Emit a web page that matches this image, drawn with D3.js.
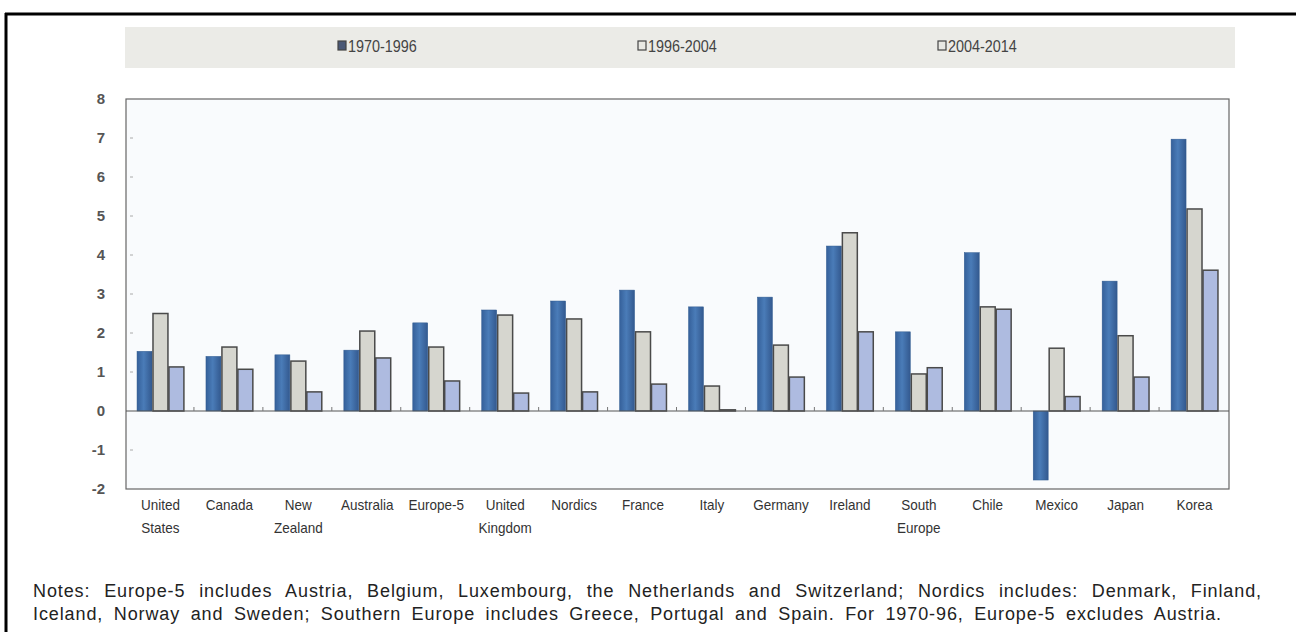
<!DOCTYPE html>
<html>
<head>
<meta charset="utf-8">
<script src="https://cdn.jsdelivr.net/npm/d3@7"></script>
<style>
  body { margin: 0; background: #fff; }
  svg { display: block; }
</style>
</head>
<body>
<div id="chart"></div>
<script>
const width = 1296;
const height = 632;

// Data.
const categories = [
  ["United", "States"], ["Canada"], ["New", "Zealand"], ["Australia"], ["Europe-5"],
  ["United", "Kingdom"], ["Nordics"], ["France"], ["Italy"], ["Germany"], ["Ireland"],
  ["South", "Europe"], ["Chile"], ["Mexico"], ["Japan"], ["Korea"]
];
const seriesNames = ["1970-1996", "1996-2004", "2004-2014"];
const values1970 = [1.53, 1.40, 1.44, 1.56, 2.26, 2.59, 2.82, 3.10, 2.67, 2.92, 4.23, 2.03, 4.06, -1.77, 3.33, 6.97];
const values1996 = [2.50, 1.64, 1.28, 2.05, 1.64, 2.46, 2.36, 2.03, 0.64, 1.69, 4.57, 0.95, 2.67, 1.61, 1.93, 5.18];
const values2004 = [1.13, 1.07, 0.49, 1.36, 0.77, 0.46, 0.49, 0.69, 0.03, 0.87, 2.03, 1.11, 2.61, 0.37, 0.87, 3.61];
const yTicks = [-2, -1, 0, 1, 2, 3, 4, 5, 6, 7, 8];
const notes = [
  "Notes: Europe-5 includes Austria, Belgium, Luxembourg, the Netherlands and Switzerland; Nordics includes: Denmark, Finland,",
  "Iceland, Norway and Sweden; Southern Europe includes Greece, Portugal and Spain. For 1970-96, Europe-5 excludes Austria."
];

const series = [values1970, values1996, values2004];
const fills = ["url(#gradDark)", "#d6d6cf", "#aebbe0"];
const legendFills = ["#4a5876", "#e8e8e3", "#e8e8e3"];

const margin = { top: 99, right: 1296 - 1229, bottom: 632 - 489, left: 126 };

const svg = d3.select("#chart")
  .append("svg")
  .attr("width", width)
  .attr("height", height)
  .style("font-family", "'Liberation Sans', Arial, sans-serif");

const defs = svg.append("defs");
const grad = defs.append("linearGradient").attr("id", "gradDark")
  .attr("x1", "0").attr("x2", "1").attr("y1", "0").attr("y2", "0");
grad.append("stop").attr("offset", "0%").attr("stop-color", "#35609a");
grad.append("stop").attr("offset", "45%").attr("stop-color", "#4a7cb8");
grad.append("stop").attr("offset", "100%").attr("stop-color", "#33598f");

// Outer frame
svg.append("line").attr("x1", 5).attr("x2", width).attr("y1", 14).attr("y2", 14)
  .attr("stroke", "#000").attr("stroke-width", 3);
svg.append("line").attr("x1", 6).attr("x2", 6).attr("y1", 13).attr("y2", height)
  .attr("stroke", "#000").attr("stroke-width", 3);

// Legend band
svg.append("rect").attr("x", 125).attr("y", 27).attr("width", 1110).attr("height", 41)
  .attr("fill", "#ebebe7");
const legendX = [338, 638, 938];
const legend = svg.append("g").selectAll("g")
  .data(seriesNames)
  .join("g")
  .attr("transform", (d, i) => `translate(${legendX[i]},46)`);
legend.append("rect")
  .attr("x", 0).attr("y", -5).attr("width", 8).attr("height", 9)
  .attr("fill", (d, i) => legendFills[i])
  .attr("stroke", "#444").attr("stroke-width", 1.2);
legend.append("text")
  .attr("x", 10).attr("y", 6)
  .attr("font-size", 16).attr("fill", "#444")
  .attr("transform", "scale(0.9,1)")
  .attr("transform-origin", "10 0")
  .text(d => d);

const x = d3.scaleBand()
  .domain(d3.range(categories.length))
  .range([margin.left, width - margin.right])
  .paddingInner(0)
  .paddingOuter(0);

const xSub = d3.scaleBand()
  .domain(d3.range(series.length))
  .range([0, x.bandwidth()])
  .paddingInner(0)
  .paddingOuter(0.66);

const y = d3.scaleLinear()
  .domain([-2, 8])
  .range([height - margin.bottom, margin.top]);

// Plot area
svg.append("rect")
  .attr("x", margin.left).attr("y", margin.top)
  .attr("width", width - margin.left - margin.right)
  .attr("height", height - margin.top - margin.bottom)
  .attr("fill", "#f9fbfd")
  .attr("stroke", "#666").attr("stroke-width", 1.2);

// y labels
svg.append("g").selectAll("text")
  .data(yTicks)
  .join("text")
  .attr("x", 105).attr("y", d => y(d) + 5)
  .attr("text-anchor", "end")
  .attr("font-size", 15).attr("font-weight", "bold")
  .attr("fill", "#555")
  .text(d => d);

// small y tick marks inside plot
svg.append("g").selectAll("line")
  .data(yTicks.filter(d => d !== 0 && d !== 8 && d !== -2))
  .join("line")
  .attr("x1", margin.left + 4).attr("x2", margin.left + 7)
  .attr("y1", d => y(d)).attr("y2", d => y(d))
  .attr("stroke", "#aaa");

// Bars
const groups = svg.append("g").selectAll("g")
  .data(categories.map((c, i) => i))
  .join("g")
  .attr("transform", i => `translate(${x(i)},0)`);

groups.selectAll("rect")
  .data(i => series.map((s, k) => ({ k, v: s[i] })))
  .join("rect")
  .attr("x", d => xSub(d.k) + 0.5)
  .attr("width", xSub.bandwidth() - 1)
  .attr("y", d => y(Math.max(0, d.v)))
  .attr("height", d => Math.abs(y(d.v) - y(0)))
  .attr("fill", d => fills[d.k])
  .attr("stroke", d => d.k === 0 ? "#2f5a8f" : "#4a4a4a")
  .attr("stroke-width", d => d.k === 0 ? 0.5 : 1.5);

// Zero line
svg.append("line")
  .attr("x1", margin.left).attr("x2", width - margin.right)
  .attr("y1", y(0)).attr("y2", y(0))
  .attr("stroke", "#555").attr("stroke-width", 1.2);

// category tick marks on zero line
svg.append("g").selectAll("line")
  .data(d3.range(1, categories.length))
  .join("line")
  .attr("x1", i => x(i) - 1).attr("x2", i => x(i) - 1)
  .attr("y1", y(0)).attr("y2", y(0) - 4)
  .attr("stroke", "#777");

// x labels
const xl = svg.append("g").selectAll("text")
  .data(categories)
  .join("text")
  .attr("x", (d, i) => x(i) + x.bandwidth() / 2)
  .attr("y", 510)
  .attr("text-anchor", "middle")
  .attr("font-size", 15).attr("fill", "#333")
  .attr("transform-origin", (d, i) => `${x(i) + x.bandwidth() / 2} 0`)
  .attr("transform", "scale(0.9,1)");
xl.selectAll("tspan")
  .data(d => d)
  .join("tspan")
  .attr("x", function () { return d3.select(this.parentNode).attr("x"); })
  .attr("dy", (d, j) => j === 0 ? 0 : 23)
  .text(d => d);

// Notes (spread to the reference line widths via word spacing)
const noteTargets = [1229, 1189];
svg.append("g").selectAll("text")
  .data(notes)
  .join("text")
  .attr("x", 33)
  .attr("y", (d, i) => 597 + i * 23)
  .attr("font-size", 18).attr("fill", "#222")
  .attr("letter-spacing", 0.9)
  .text(d => d)
  .each(function (d, i) {
    const len = this.getComputedTextLength();
    const spaces = d.split(" ").length - 1;
    const extra = (noteTargets[i] - len) / spaces;
    if (extra > 0) d3.select(this).attr("word-spacing", extra);
  });
</script>
</body>
</html>
